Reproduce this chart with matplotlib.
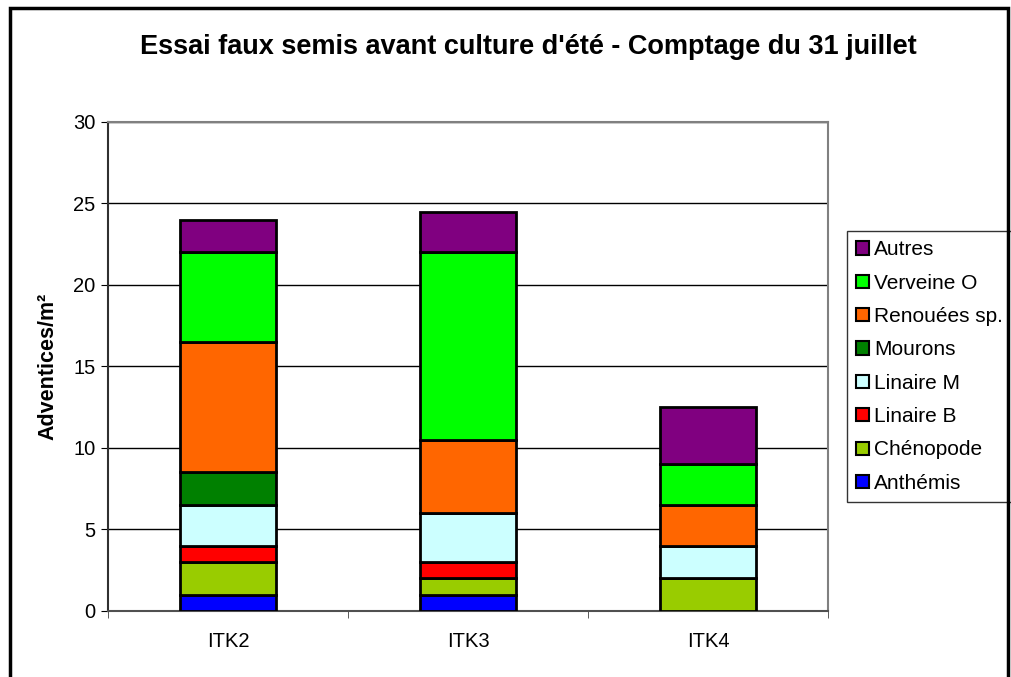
import matplotlib.pyplot as plt
import numpy as np
from matplotlib.patches import Rectangle

plt.rcParams['font.family'] = ['Liberation Sans', 'DejaVu Sans']

categories = ['ITK2', 'ITK3', 'ITK4']
species = ['Anthémis', 'Chénopode', 'Linaire B', 'Linaire M',
           'Mourons', 'Renouées sp.', 'Verveine O', 'Autres']
anthemis = [1, 1, 0]
chenopode = [2, 1, 2]
linaire_b = [1, 1, 0]
linaire_m = [2.5, 3, 2]
mourons = [2, 0, 0]
renouees = [8, 4.5, 2.5]
verveine = [5.5, 11.5, 2.5]
autres = [2, 2.5, 3.5]
colors = ['#0000ff', '#99cc00', '#ff0000', '#ccffff',
          '#008000', '#ff6600', '#00ff00', '#800080']

series = [anthemis, chenopode, linaire_b, linaire_m, mourons, renouees, verveine, autres]

fig = plt.figure(figsize=(10.12, 6.77), dpi=100)
ax = fig.add_axes([0.1067, 0.0975, 0.7115, 0.7223])

x = np.arange(len(categories))
bottom = np.zeros(len(categories))
handles = []
for name, vals, col in zip(species, series, colors):
    vals = np.array(vals, dtype=float)
    b = ax.bar(x, vals, 0.4, bottom=bottom, color=col, edgecolor='black',
               linewidth=2, label=name, zorder=3)
    handles.append(b)
    bottom += vals

ax.set_xlim(-0.5, 2.5)
ax.set_ylim(0, 30)
ax.set_yticks(range(0, 31, 5))
ax.set_xticks(x)
ax.set_xticklabels(categories)
ax.set_xticks([-0.5, 0.5, 1.5, 2.5], minor=True)
ax.tick_params(axis='x', which='major', length=0, labelsize=14.5, pad=15)
ax.tick_params(axis='x', which='minor', length=5, color='#404040')
ax.tick_params(axis='y', labelsize=14.5, length=5, pad=4)
ax.grid(axis='y', color='black', linewidth=1, zorder=0)
for s in ['top', 'right']:
    ax.spines[s].set_color('#808080')
ax.spines['bottom'].set_color('#505050')
ax.spines['left'].set_color('#303030')
for s in ax.spines.values():
    s.set_linewidth(1.5)

ax.set_ylabel('Adventices/m²', fontsize=15.5, fontweight='bold')
ax.yaxis.set_label_coords(-0.069, 0.5)
fig.text(0.522, 0.93, "Essai faux semis avant culture d'été - Comptage du 31 juillet",
         ha='center', va='center', fontsize=19.5, fontweight='bold')

leg = ax.legend(handles[::-1], species[::-1], loc='upper left',
                bbox_to_anchor=(0.837, 0.659), bbox_transform=fig.transFigure,
                frameon=True, fancybox=False, edgecolor='black', fontsize=15,
                handlelength=0.6, handleheight=0.6, handletextpad=0.25,
                labelspacing=0.69, borderpad=0.45, borderaxespad=0)
leg.get_frame().set_linewidth(1)
for h in leg.legend_handles:
    h.set_linewidth(1.5)

fig.patches.append(Rectangle((0.01, -0.01), 0.986, 0.998, transform=fig.transFigure,
                             fill=False, edgecolor='black', linewidth=2.5))

fig.savefig('out.png', dpi=100)
